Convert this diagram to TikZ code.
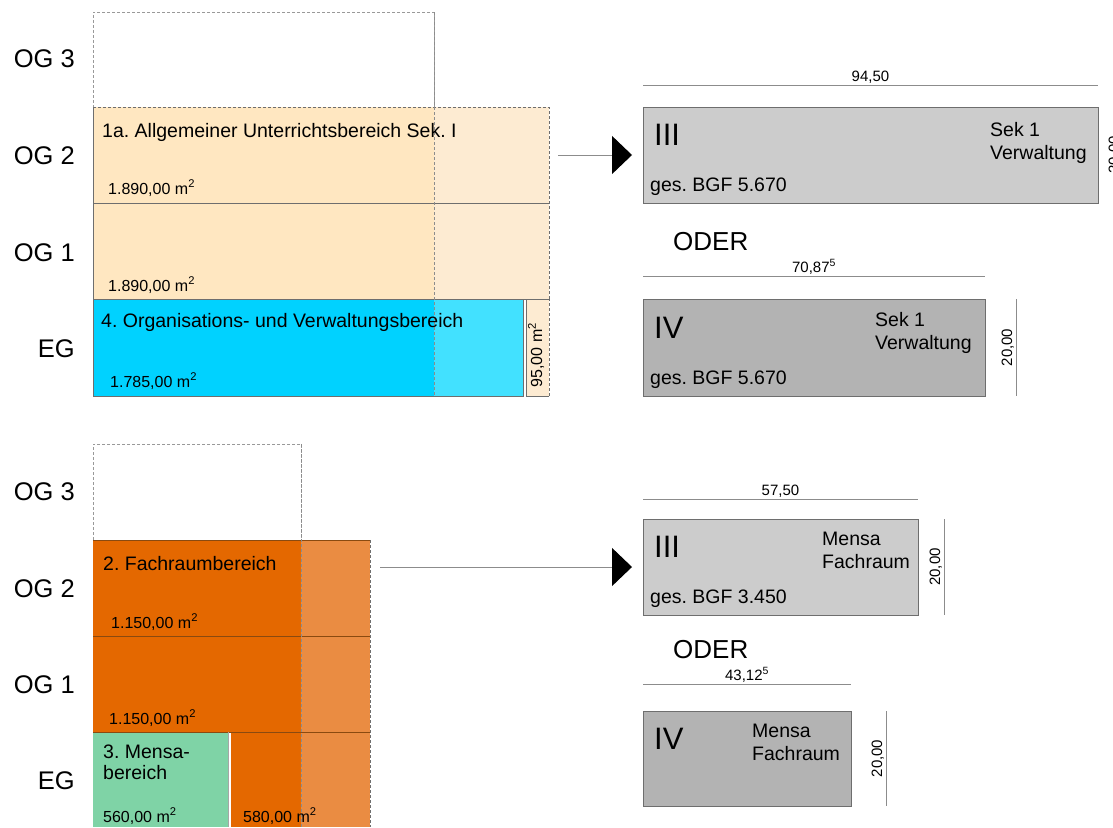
\documentclass[tikz,border=0pt]{standalone}
\usepackage{fontspec}
\setmainfont{Liberation Sans}
\frenchspacing
\usetikzlibrary{arrows.meta}
\definecolor{sekA}{HTML}{FFE7C1}
\definecolor{sekB}{HTML}{FDEBD2}
\definecolor{verA}{HTML}{00D2FF}
\definecolor{verB}{HTML}{42E1FF}
\definecolor{faA}{HTML}{E46800}
\definecolor{faB}{HTML}{EA8C42}
\definecolor{mensaC}{HTML}{7FD3A6}
\definecolor{boxIIIc}{HTML}{CCCCCC}
\definecolor{boxIVc}{HTML}{B3B3B3}
\definecolor{dimc}{HTML}{8C8C8C}
\definecolor{edgec}{HTML}{6E6E6E}
\definecolor{brownc}{HTML}{8A4A10}
\begin{document}
\begin{tikzpicture}[x=1pt,y=-1pt,
  area/.style={anchor=north west,inner sep=0pt,outer sep=0pt,draw=none},
  ghost/.style={anchor=north west,inner sep=0pt,outer sep=0pt,draw=gray!80,dashed,dash pattern=on 3pt off 2pt,line width=0.6pt},
  dashedge/.style={draw=edgec,dash pattern=on 3pt off 2pt,line width=0.7pt},
  solidedge/.style={draw=edgec,line width=0.8pt},
  brownedge/.style={draw=brownc,line width=0.8pt},
  result/.style={anchor=north west,inner sep=0pt,outer sep=0pt,draw=edgec,line width=0.8pt},
  floorlab/.style={anchor=base east,inner sep=0pt,font=\fontsize{25.5}{30}\selectfont},
  titlelab/.style={anchor=base west,inner sep=0pt,align=left,font=\fontsize{19.5}{21}\selectfont},
  arealab/.style={anchor=base west,inner sep=0pt,font=\fontsize{16}{19}\selectfont},
  romanlab/.style={anchor=base west,inner sep=0pt,font=\fontsize{31}{36}\selectfont},
  boxlab/.style={anchor=base west,inner sep=0pt,align=left,font=\fontsize{19.5}{23}\selectfont},
  oderlab/.style={anchor=base west,inner sep=0pt,font=\fontsize{26}{30}\selectfont},
  dimlab/.style={inner sep=1.5pt,font=\fontsize{15}{18}\selectfont},
  dimline/.style={draw=dimc,line width=0.9pt},
  conn/.style={draw=dimc,line width=1pt,-{Triangle[length=20pt,width=38pt,color=black]}}
]
\useasboundingbox (0,0) rectangle (1113,827);

% ---------- upper building ----------
\node[area,fill=sekA,minimum width=456pt,minimum height=96pt] (sek2) at (93,107) {};
\node[area,fill=sekA,minimum width=456pt,minimum height=96pt] (sek1) at (93,203) {};
\node[area,fill=verA,minimum width=430pt,minimum height=97pt] (ver) at (93,299) {};
\node[area,fill=sekB,minimum width=23pt,minimum height=97pt] (ver95) at (526,299) {};
\fill[sekB] (434,107) rectangle (549,299);
\fill[verB] (434,299) rectangle (523,396);
\node[ghost,minimum width=341pt,minimum height=95pt] (og3a) at (93,12) {};
\draw[dashedge] (sek2.north west) -- (sek2.north east) -- (sek1.south east);
\draw[solidedge] (sek2.north west) -- (ver.south west) -- (ver.south east) -- (ver.north east);
\draw[solidedge] (sek2.south west) -- (sek2.south east);
\draw[solidedge] (sek1.south west) -- (sek1.south east);
\draw[solidedge] (ver95.north west) -- (ver95.south west) -- (ver95.south east);
\draw[dashedge] (ver95.south east) -- (ver95.north east);
\draw[dashedge,draw=gray!90] (og3a.north east) -- (434,396);

\node[floorlab] (fa3) at (75,67) {OG 3};
\node[floorlab] (fa2l) at (75,164) {OG 2};
\node[floorlab] (fa1l) at (75,261) {OG 1};
\node[floorlab] (fa0l) at (75,357) {EG};

\node[titlelab] (t1a) at (102,137) {1a. Allgemeiner Unterrichtsbereich Sek. I};
\node[arealab] (a1a2) at (108,194) {1.890,00 m\textsuperscript{2}};
\node[arealab] (a1a1) at (108,291) {1.890,00 m\textsuperscript{2}};
\node[titlelab] (t4) at (101,327) {4. Organisations- und Verwaltungsbereich};
\node[arealab] (a4) at (110,387) {1.785,00 m\textsuperscript{2}};
\node[rotate=90,inner sep=0pt,font=\fontsize{16}{19}\selectfont] (a95) at ([yshift=-7.5pt,xshift=-1.5pt]ver95.center) {95,00 m\textsuperscript{2}};

% ---------- lower building ----------
\node[area,fill=faA,minimum width=277pt,minimum height=96pt] (fa2) at (93,540) {};
\node[area,fill=faA,minimum width=277pt,minimum height=96pt] (fa1) at (93,636) {};
\node[area,fill=mensaC,minimum width=135pt,minimum height=95pt] (mensa) at (93,732) {};
\node[area,fill=faA,minimum width=139pt,minimum height=95pt] (fa0) at (231,732) {};
\fill[faB] (301,540) rectangle (370,827);
\node[ghost,minimum width=208pt,minimum height=96pt] (og3b) at (93,444) {};
\draw[brownedge] (fa2.north west) -- (fa2.north east);
\draw[brownedge] (fa2.south west) -- (fa2.south east);
\draw[brownedge] (fa1.south west) -- (fa1.south east);
\draw[dashedge] (fa2.north east) -- (fa0.south east);
\draw[solidedge,draw=gray!70] (mensa.north east) -- (mensa.south east);
\draw[dashedge,draw=gray!90] (og3b.north east) -- (og3b.north east |- fa0.south);

\node[floorlab] (fb3) at (75,500) {OG 3};
\node[floorlab] (fb2) at (75,597) {OG 2};
\node[floorlab] (fb1) at (75,693) {OG 1};
\node[floorlab] (fb0) at (75,789) {EG};

\node[titlelab] (t2) at (103,570) {2. Fachraumbereich};
\node[arealab] (a22) at (111,628) {1.150,00 m\textsuperscript{2}};
\node[arealab] (a21) at (109,724) {1.150,00 m\textsuperscript{2}};
\node[titlelab] (t3) at (103,779) {3. Mensa-\\bereich};
\node[arealab] (a3) at (103,822) {560,00 m\textsuperscript{2}};
\node[arealab] (a20) at (243,822) {580,00 m\textsuperscript{2}};

% ---------- result boxes ----------
\node[result,fill=boxIIIc,minimum width=455pt,minimum height=96pt] (boxA) at (643,107) {};
\node[result,fill=boxIVc,minimum width=342pt,minimum height=97pt] (boxB) at (643,299) {};
\node[result,fill=boxIIIc,minimum width=275pt,minimum height=96pt] (boxC) at (643,519) {};
\node[result,fill=boxIVc,minimum width=208pt,minimum height=95pt] (boxD) at (643,711) {};

\node[romanlab] (rA) at (654,145) {III};
\node[boxlab] (sA) at (990,159) {Sek 1\\Verwaltung};
\node[boxlab] (gA) at (650,191) {ges. BGF 5.670};

\node[oderlab] (o1) at (673,250) {ODER};

\node[romanlab] (rB) at (654,338) {IV};
\node[boxlab] (sB) at (875,349) {Sek 1\\Verwaltung};
\node[boxlab] (gB) at (650,384) {ges. BGF 5.670};

\node[romanlab] (rC) at (654,557) {III};
\node[boxlab] (sC) at (822,568) {Mensa\\Fachraum};
\node[boxlab] (gC) at (650,603) {ges. BGF 3.450};

\node[oderlab] (o2) at (673,658) {ODER};

\node[romanlab] (rD) at (654,749) {IV};
\node[boxlab] (sD) at (752,760) {Mensa\\Fachraum};

% dimension lines
\draw[dimline] ([yshift=22pt]boxA.north west) -- ([yshift=22pt]boxA.north east)
  node[midway,above,dimlab] {94,50};
\draw[dimline] ([yshift=23pt]boxB.north west) -- ([yshift=23pt]boxB.north east)
  node[midway,above,dimlab] {70,87\textsuperscript{5}};
\draw[dimline] ([yshift=20pt]boxC.north west) -- ([yshift=20pt]boxC.north east)
  node[midway,above,dimlab] {57,50};
\draw[dimline] ([yshift=27pt]boxD.north west) -- ([yshift=27pt]boxD.north east)
  node[midway,above,dimlab] {43,12\textsuperscript{5}};

\draw[dimline] ([xshift=25pt]boxA.north east) -- ([xshift=25pt]boxA.south east)
  node[midway,rotate=90,anchor=south,dimlab] {20,00};
\draw[dimline] ([xshift=31pt]boxB.north east) -- ([xshift=31pt]boxB.south east)
  node[midway,rotate=90,anchor=south,dimlab] {20,00};
\draw[dimline] ([xshift=26pt]boxC.north east) -- ([xshift=26pt]boxC.south east)
  node[midway,rotate=90,anchor=south,dimlab] {20,00};
\draw[dimline] ([xshift=35pt]boxD.north east) -- ([xshift=35pt]boxD.south east)
  node[midway,rotate=90,anchor=south,dimlab] {20,00};

% connectors
\draw[conn,shorten <=9pt,shorten >=11pt] (sek2.east) -- (boxA.west);
\draw[conn,shorten <=10pt,shorten >=11pt] (fa2.east |- boxC.west) -- (boxC.west);
\end{tikzpicture}
\end{document}
